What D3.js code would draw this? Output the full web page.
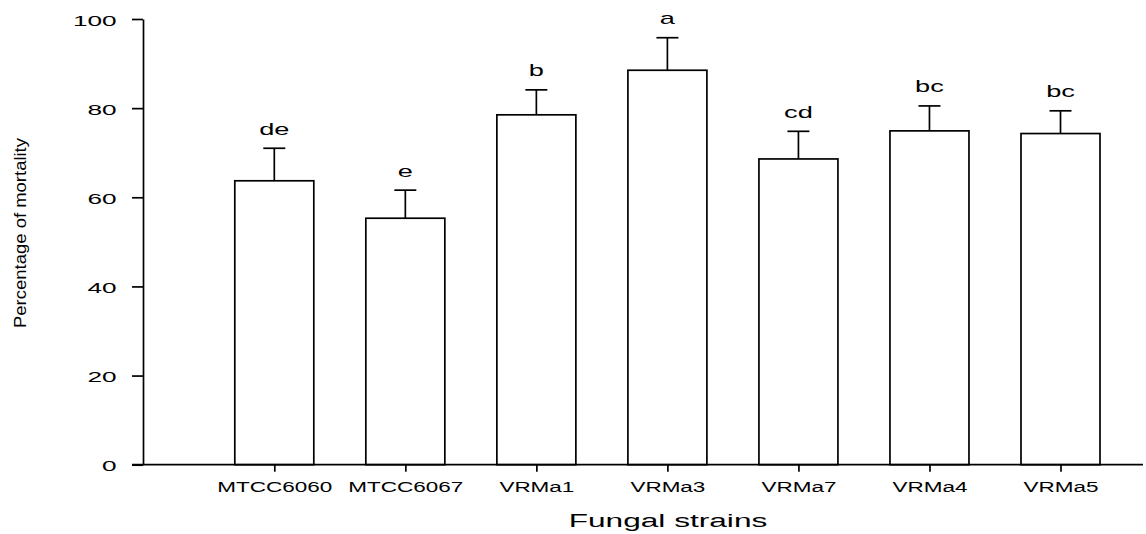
<!DOCTYPE html>
<html>
<head>
<meta charset="utf-8">
<script src="https://cdn.jsdelivr.net/npm/d3@7"></script>
<style>
  html, body { margin: 0; padding: 0; background: #fff; }
  svg { display: block; font-family: "Liberation Sans", Arial, sans-serif; }
</style>
</head>
<body>
<svg id="chart" width="1146" height="534"></svg>
<script>
// Fungal strains and their mortality (%), with upper error bars and significance letters
const strains = ["MTCC6060", "MTCC6067", "VRMa1", "VRMa3", "VRMa7", "VRMa4", "VRMa5"];
const mortality = [63.7, 55.3, 78.5, 88.5, 68.6, 74.9, 74.3];
const errors = [7.3, 6.3, 5.6, 7.3, 6.2, 5.6, 5.1];
const letters = ["de", "e", "b", "a", "cd", "bc", "bc"];
const yTicks = [0, 20, 40, 60, 80, 100];

const svg = d3.select("#chart");

const x = d3.scalePoint().domain(strains).range([274.3, 1060.5]);
const y = d3.scaleLinear().domain([0, 100]).range([464.7, 19]);
const barWidth = 79;
const axisX = 143;
const axisRight = 1143;

const rows = strains.map((s, i) => ({ s, v: mortality[i], e: errors[i], l: letters[i] }));

// Bars
svg.append("g").selectAll("rect").data(rows).join("rect")
  .attr("x", d => x(d.s) - barWidth / 2)
  .attr("y", d => y(d.v))
  .attr("width", barWidth)
  .attr("height", d => y(0) - y(d.v))
  .attr("fill", "#fff")
  .attr("stroke", "#000")
  .attr("stroke-width", 1.7);

// Error bars (upper only)
const err = svg.append("g").attr("stroke", "#000").attr("stroke-width", 1.7);
err.selectAll("line.stem").data(rows).join("line").attr("class", "stem")
  .attr("x1", d => x(d.s)).attr("x2", d => x(d.s))
  .attr("y1", d => y(d.v)).attr("y2", d => y(d.v + d.e));
err.selectAll("line.cap").data(rows).join("line").attr("class", "cap")
  .attr("x1", d => x(d.s) - 11).attr("x2", d => x(d.s) + 11)
  .attr("y1", d => y(d.v + d.e)).attr("y2", d => y(d.v + d.e));

// Significance letters
svg.append("g").selectAll("text").data(rows).join("text")
  .attr("transform", d => `translate(${x(d.s)},${y(d.v + d.e) - 13.5}) scale(1.7,1)`)
  .attr("text-anchor", "middle")
  .attr("font-size", 16)
  .attr("fill", "#000")
  .text(d => d.l);

// Y axis
const yAxis = svg.append("g")
  .attr("transform", `translate(${axisX},0)`)
  .call(d3.axisLeft(y).tickValues(yTicks).tickSize(11).tickSizeOuter(0));
yAxis.select(".domain").attr("stroke-width", 1.7);
yAxis.selectAll(".tick line").attr("stroke-width", 1.7);
yAxis.selectAll(".tick text")
  .attr("x", null).attr("dy", null)
  .attr("transform", "translate(-26.3,6) scale(1.75,1)")
  .attr("text-anchor", "end")
  .attr("font-size", 15)
  .attr("font-family", "'Liberation Sans', Arial, sans-serif")
  .attr("fill", "#000");

// X axis line spanning the full plot width
svg.append("line")
  .attr("x1", axisX - 11).attr("x2", axisRight)
  .attr("y1", y(0)).attr("y2", y(0))
  .attr("stroke", "#000").attr("stroke-width", 1.7);

const xAxis = svg.append("g")
  .attr("transform", `translate(0,${y(0)})`)
  .call(d3.axisBottom(x).tickSize(7).tickSizeOuter(0));
xAxis.select(".domain").remove();
xAxis.selectAll(".tick line").attr("stroke-width", 1.7);
xAxis.selectAll(".tick text")
  .attr("y", null).attr("dy", null)
  .attr("transform", "translate(0,27) scale(1.46,1)")
  .attr("font-size", 15.4)
  .attr("font-family", "'Liberation Sans', Arial, sans-serif")
  .attr("fill", "#000");

// Axis titles
svg.append("text")
  .attr("transform", "translate(668,526.7) scale(1.7,1)")
  .attr("text-anchor", "middle")
  .attr("font-size", 18.6)
  .attr("fill", "#000")
  .text("Fungal strains");

svg.append("text")
  .attr("transform", "translate(25.5,233) rotate(-90)")
  .attr("text-anchor", "middle")
  .attr("font-size", 17)
  .attr("textLength", 190)
  .attr("lengthAdjust", "spacingAndGlyphs")
  .attr("fill", "#000")
  .text("Percentage of mortality");
</script>
</body>
</html>
